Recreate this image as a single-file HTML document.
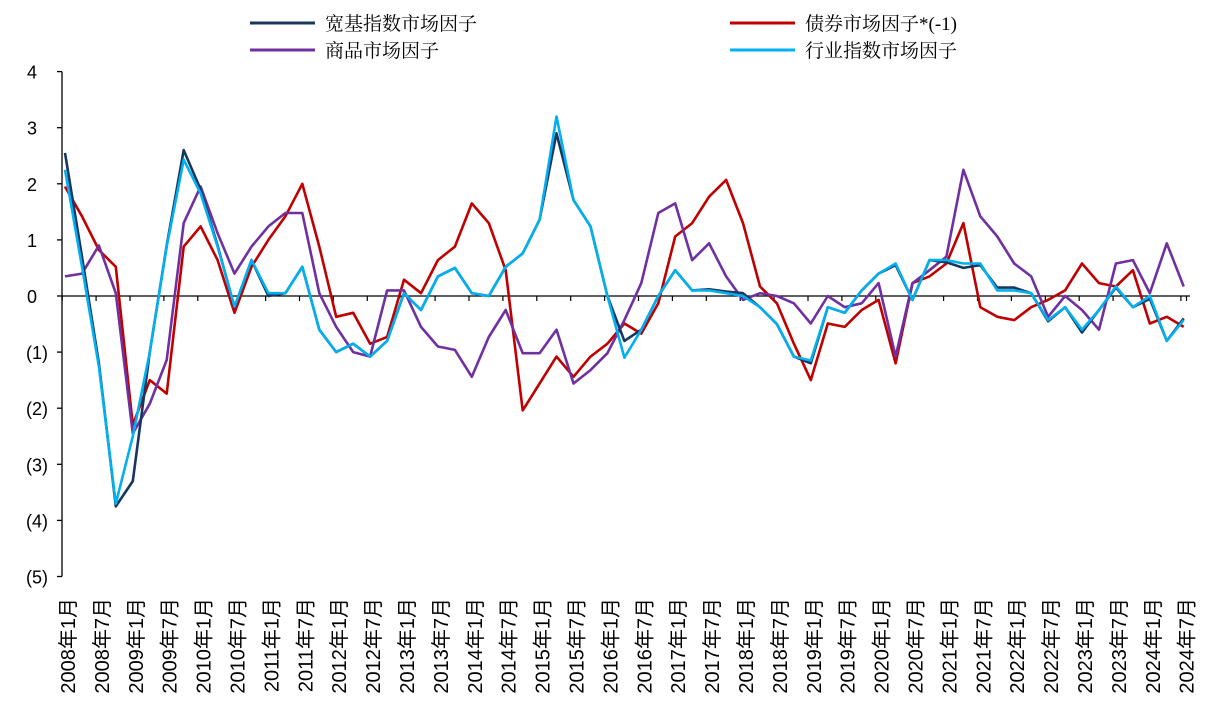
<!DOCTYPE html>
<html><head><meta charset="utf-8"><style>
body{margin:0;background:#fff;}
svg{display:block;font-family:"Liberation Sans","Noto Sans CJK SC",sans-serif;}
.lg{font-family:"Liberation Serif","Noto Serif CJK SC",serif;font-size:19px;fill:#000;}
</style></head><body>
<svg id="chart" width="1215" height="711" viewBox="0 0 1215 711"></svg>
<script>
const months = [0,3,6,9,12,15,18,21,24,27,30,33,36,39,42,45,48,51,54,57,60,63,66,69,72,75,78,81,84,87,90,93,96,99,102,105,108,111,114,117,120,123,126,129,132,135,138,141,144,147,150,153,156,159,162,165,168,171,174,177,180,183,186,189,192,195,198];
const broadVals = [2.55,0.7,-1.2,-3.75,-3.3,-1.0,0.9,2.6,1.9,0.9,-0.2,0.64,0.0,0.05,0.52,-0.6,-1.0,-0.85,-1.08,-0.8,0.05,-0.25,0.35,0.5,0.05,0.0,0.52,0.76,1.36,2.9,1.71,1.24,0.0,-0.8,-0.6,0.0,0.46,0.1,0.12,0.08,0.05,-0.2,-0.5,-1.08,-1.2,-0.2,-0.3,0.1,0.4,0.55,-0.07,0.64,0.6,0.5,0.55,0.15,0.15,0.05,-0.45,-0.2,-0.65,-0.25,0.15,-0.2,-0.05,-0.8,-0.4,-0.65];
const bondVals = [1.95,1.42,0.82,0.52,-2.3,-1.5,-1.74,0.88,1.24,0.64,-0.3,0.52,1.0,1.42,2.0,0.88,-0.37,-0.3,-0.85,-0.73,0.29,0.05,0.64,0.88,1.65,1.3,0.46,-2.04,-1.56,-1.08,-1.44,-1.08,-0.85,-0.49,-0.67,-0.13,1.06,1.3,1.77,2.07,1.3,0.17,-0.13,-0.85,-1.5,-0.49,-0.55,-0.25,-0.07,-1.2,0.23,0.35,0.58,1.3,-0.2,-0.37,-0.43,-0.2,-0.07,0.1,0.58,0.23,0.17,0.46,-0.49,-0.37,-0.55];
const commodityVals = [0.35,0.4,0.9,0.05,-2.45,-1.92,-1.14,1.3,1.95,1.12,0.4,0.88,1.24,1.48,1.48,0.05,-0.55,-1.0,-1.08,0.1,0.1,-0.55,-0.9,-0.96,-1.44,-0.73,-0.25,-1.02,-1.02,-0.6,-1.56,-1.32,-1.02,-0.43,0.23,1.48,1.65,0.64,0.94,0.35,-0.07,0.05,0.0,-0.13,-0.49,0.0,-0.2,-0.13,0.23,-1.08,0.23,0.46,0.7,2.25,1.42,1.06,0.58,0.35,-0.37,0.0,-0.25,-0.6,0.58,0.64,0.05,0.94,0.17];
const industryVals = [2.25,0.52,-1.26,-3.7,-2.5,-1.0,0.88,2.43,1.83,0.88,-0.19,0.64,0.05,0.05,0.52,-0.6,-1.0,-0.85,-1.08,-0.8,0.05,-0.25,0.35,0.5,0.05,0.0,0.52,0.76,1.36,3.2,1.71,1.24,0.0,-1.1,-0.6,0.0,0.46,0.1,0.1,0.05,0.0,-0.2,-0.5,-1.08,-1.15,-0.2,-0.3,0.1,0.4,0.58,-0.07,0.64,0.64,0.58,0.58,0.1,0.1,0.05,-0.43,-0.2,-0.6,-0.25,0.17,-0.2,0.0,-0.8,-0.43,-0.73];
const yTicks = [4,3,2,1,0,-1,-2,-3,-4,-5];
const xLabels = ["2008年1月","2008年7月","2009年1月","2009年7月","2010年1月","2010年7月","2011年1月","2011年7月","2012年1月","2012年7月","2013年1月","2013年7月","2014年1月","2014年7月","2015年1月","2015年7月","2016年1月","2016年7月","2017年1月","2017年7月","2018年1月","2018年7月","2019年1月","2019年7月","2020年1月","2020年7月","2021年1月","2021年7月","2022年1月","2022年7月","2023年1月","2023年7月","2024年1月","2024年7月"];

const NS="http://www.w3.org/2000/svg";
const svg=document.getElementById('chart');
const xS=m=>65+m*5.65;
const yS=v=>296-v*56.1;
function mk(t,a,p){const e=document.createElementNS(NS,t);for(const k in a)e.setAttribute(k,a[k]);(p||svg).appendChild(e);return e;}

let ax=mk('line',{x1:62,y1:yS(4),x2:62,y2:yS(-5),stroke:'#000','stroke-width':1.3});


yTicks.forEach(v=>{
  const tk=mk('line',{x1:57,x2:62,y1:yS(v),y2:yS(v),stroke:'#000','stroke-width':1.3});
  
  
  const t=mk('text',{x:v<0?48:37,y:yS(v)+7,'text-anchor':'end','font-size':18,fill:'#000'});
  t.textContent=v<0?'('+(-v)+')':String(v);
  
  
});
let zl=mk('line',{x1:62,x2:1190,y1:yS(0),y2:yS(0),stroke:'#000','stroke-width':1.3});


xLabels.forEach((l,i)=>{
  const m=i*6;
  const tk=mk('line',{x1:xS(m)-2.8,x2:xS(m)-2.8,y1:yS(0),y2:yS(0)+5,stroke:'#000','stroke-width':1.2});
  
  
  const cx=xS(m)+3, cy=598;
  const t=mk('text',{x:cx,y:cy,'text-anchor':'end','font-size':20,fill:'#000',transform:`rotate(-90 ${cx} ${cy}) translate(0 7)`});
  t.textContent=l;
  
  
});
const lastTk=mk('line',{x1:xS(198)+2.8,x2:xS(198)+2.8,y1:yS(0),y2:yS(0)+5,stroke:'#000','stroke-width':1.2});



function series(vals,color,name){
  const d=vals.map((v,i)=>(i?'L':'M')+xS(months[i]).toFixed(1)+','+yS(v).toFixed(1)).join(' ');
  const p=mk('path',{d:d,fill:'none',stroke:color,'stroke-width':2.6,'stroke-linejoin':'round'});
  
  
}
series(bondVals,'#c00000','bond-factor-line');
series(commodityVals,'#7030a0','commodity-factor-line');
series(broadVals,'#17375e','broad-index-factor-line');
series(industryVals,'#00b0f0','industry-index-factor-line');

const leg=[[250,23,'#17375e','宽基指数市场因子','legend-broad-index'],[730,23,'#c00000','债券市场因子*(-1)','legend-bond'],[250,50,'#7030a0','商品市场因子','legend-commodity'],[730,50,'#00b0f0','行业指数市场因子','legend-industry']];
leg.forEach(([x,y,c,txt,n])=>{
  const g=mk('g',{});
  
  
  mk('line',{x1:x,x2:x+65,y1:y,y2:y,stroke:c,'stroke-width':3},g);
  const t=mk('text',{x:x+75,y:y+7,class:'lg'},g);
  t.textContent=txt;
});
</script>
</body></html>
